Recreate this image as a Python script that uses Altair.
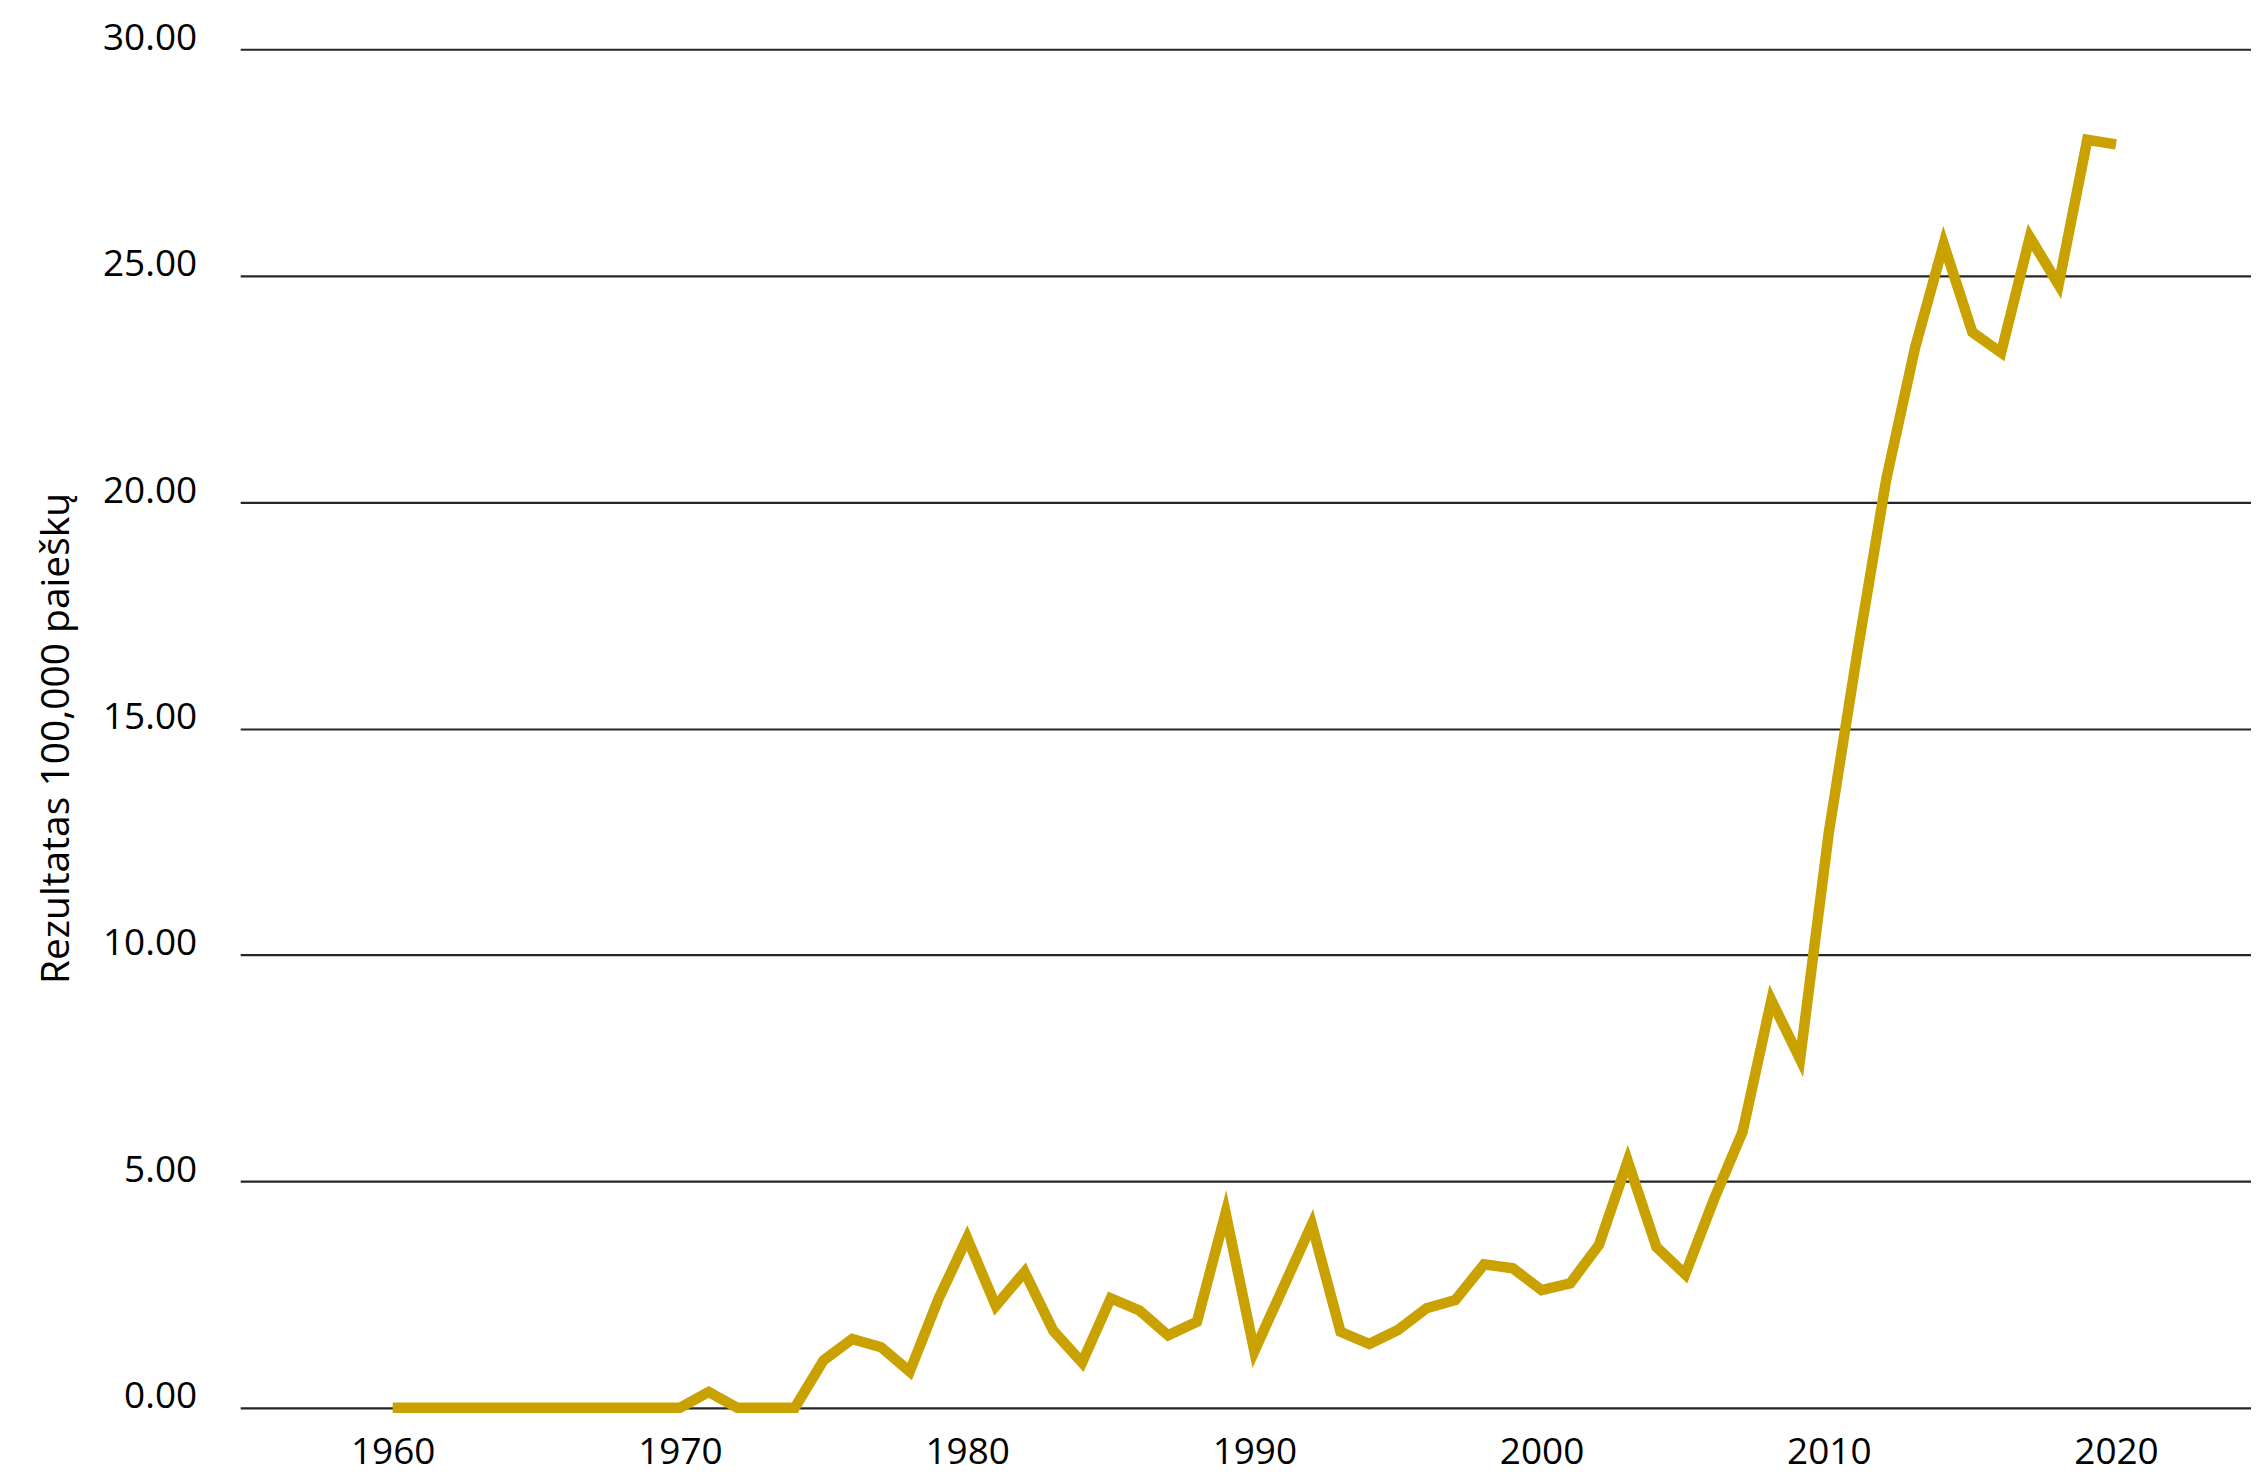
import altair as alt
import pandas as pd

# Data
years = list(range(1960, 2021))
values = [
    0, 0, 0, 0, 0, 0, 0, 0, 0, 0, 0,                          # 1960-1970
    0.35, 0, 0, 0, 1.05, 1.52, 1.34, 0.8, 2.4, 3.75,          # 1971-1980
    2.25, 3.0, 1.7, 1.0, 2.42, 2.15, 1.6, 1.9, 4.3, 1.25,     # 1981-1990
    2.65, 4.05, 1.68, 1.41, 1.72, 2.2, 2.38, 3.17, 3.08, 2.6, # 1991-2000
    2.75, 3.6, 5.45, 3.55, 2.95, 4.6, 6.1, 9.0, 7.7, 12.7,    # 2001-2010
    16.7, 20.5, 23.4, 25.7, 23.75, 23.3, 25.85, 24.8, 28.0, 27.9,  # 2011-2020
]
x_ticks = [1960, 1970, 1980, 1990, 2000, 2010, 2020]
y_ticks = [0, 5, 10, 15, 20, 25, 30]
y_title = "Rezultatas 100,000 paieškų"

df = pd.DataFrame({"year": years, "value": values})

FONT = "Open Sans"

chart = (
    alt.Chart(df)
    .mark_line(
        color="#C9A100",
        strokeWidth=10.5,
        strokeJoin="miter",
        strokeMiterLimit=10,
        strokeCap="butt",
    )
    .encode(
        x=alt.X(
            "year:Q",
            scale=alt.Scale(domain=[1954.69, 2024.7], nice=False, zero=False),
            axis=alt.Axis(
                values=x_ticks,
                format="d",
                title=None,
                grid=False,
                domain=False,
                ticks=False,
                tickSize=0,
                labelPadding=56,
                labelBaseline="alphabetic",
                labelFont=FONT,
                labelFontSize=37,
                labelColor="#000000",
                labelFlush=False,
            ),
        ),
        y=alt.Y(
            "value:Q",
            scale=alt.Scale(domain=[0, 30], nice=False),
            axis=alt.Axis(
                values=y_ticks,
                format=".2f",
                title=y_title,
                grid=True,
                gridColor="#262626",
                gridWidth=2.2,
                domain=False,
                ticks=False,
                tickSize=0,
                labelPadding=43.6,
                labelBaseline="alphabetic",
                labelFont=FONT,
                labelFontSize=37,
                labelColor="#000000",
                labelFlush=False,
                labelOverlap=False,
                titleFont=FONT,
                titleFontSize=39,
                titleFontWeight="normal",
                titleColor="#000000",
                titleAngle=270,
                titleX=-172,
                titleY=690,
                titleAlign="center",
                titleBaseline="alphabetic",
            ),
        ),
    )
    .properties(
        width=2014.4,
        height=1361,
        padding={"left": 232.6, "top": 40, "right": 0, "bottom": 66},
        autosize="none",
        background="#ffffff",
    )
    .configure_view(stroke=None)
)

chart.save("out.html", embed_options={"renderer": "svg", "actions": False})
